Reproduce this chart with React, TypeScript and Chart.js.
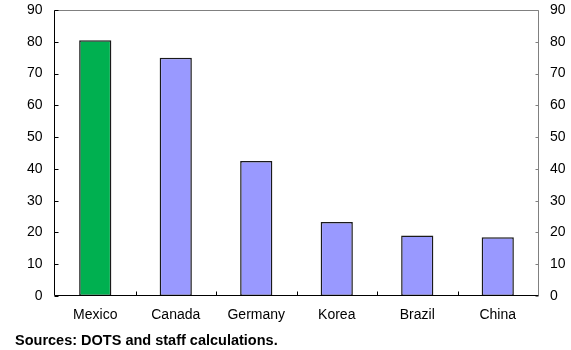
import { useEffect, useRef } from "react";
import { Chart, registerables } from "chart.js";

Chart.register(...registerables);

// Export shares by destination (percent)
const categories = ["Mexico", "Canada", "Germany", "Korea", "Brazil", "China"];
const shares = [80.5, 75, 42.5, 23.3, 19, 18.5];
const barColors = ["#00B050", "#9999FF", "#9999FF", "#9999FF", "#9999FF", "#9999FF"];
const yMin = 0;
const yMax = 90;
const yStep = 10;
const sourceNote = "Sources: DOTS and staff calculations.";

const FONT = "'Liberation Sans', Arial, Helvetica, sans-serif";

// Frame: black left/bottom axes, grey top/right border, inward tick marks, footnote.
const framePlugin = {
  id: "frame",
  afterDatasetsDraw(chart: any) {
    const { ctx, chartArea, scales } = chart;
    const { left, right, top, bottom } = chartArea;
    const xl = left - 0.5;
    const xr = right + 0.5;
    const yt = top + 0.5;
    const yb = bottom - 0.5;
    ctx.save();
    ctx.lineWidth = 1;

    ctx.strokeStyle = "#808080";
    ctx.beginPath();
    ctx.moveTo(xl, yt);
    ctx.lineTo(xr, yt);
    ctx.lineTo(xr, yb);
    scales.y2.ticks.forEach((t: any) => {
      const y = Math.round(scales.y2.getPixelForValue(t.value)) + 0.5;
      ctx.moveTo(xr - 3, y);
      ctx.lineTo(xr, y);
    });
    ctx.stroke();

    ctx.strokeStyle = "#000000";
    ctx.beginPath();
    ctx.moveTo(xl, yt);
    ctx.lineTo(xl, yb);
    ctx.lineTo(xr, yb);
    scales.y.ticks.forEach((t: any) => {
      const y = Math.round(scales.y.getPixelForValue(t.value)) + 0.5;
      ctx.moveTo(xl, y);
      ctx.lineTo(xl + 4, y);
    });
    for (let i = 1; i < categories.length; i++) {
      const x =
        Math.round((scales.x.getPixelForValue(i - 1) + scales.x.getPixelForValue(i)) / 2) + 0.5;
      ctx.moveTo(x, yb);
      ctx.lineTo(x, yb - 4);
    }
    ctx.stroke();

    ctx.fillStyle = "#000000";
    ctx.font = `bold 14.5px ${FONT}`;
    ctx.textAlign = "left";
    ctx.textBaseline = "alphabetic";
    ctx.fillText(sourceNote, 15, 345);
    ctx.restore();
  },
};

// Fixed axis sizes and vertical paddings so the plot area stays put.
const fixY = (width: number) => (scale: any) => {
  scale.width = width;
  scale.paddingTop = 10;
  scale.paddingBottom = 0;
};

export default function App() {
  const canvasRef = useRef<HTMLCanvasElement | null>(null);

  useEffect(() => {
    document.body.style.margin = "0";
    const canvas = canvasRef.current;
    if (!canvas) return;

    const tickFont = { family: FONT, size: 14 };
    const chart = new Chart(canvas, {
      type: "bar",
      data: {
        labels: categories,
        datasets: [
          {
            data: shares,
            backgroundColor: barColors,
            borderColor: "#1a1a1a",
            borderWidth: 1.5,
            borderSkipped: false,
            categoryPercentage: 1,
            barPercentage: 0.4,
          },
        ],
      },
      options: {
        responsive: false,
        animation: false,
        layout: { padding: 0 },
        plugins: {
          legend: { display: false },
          tooltip: { enabled: false },
          title: { display: false },
        },
        scales: {
          x: {
            grid: { display: false, drawTicks: false },
            border: { display: false },
            ticks: { color: "#000000", font: tickFont, padding: 11, maxRotation: 0 },
            afterFit: (scale: any) => {
              scale.height = 54;
            },
          },
          y: {
            position: "left",
            min: yMin,
            max: yMax,
            grid: { display: false, drawTicks: false },
            border: { display: false },
            ticks: {
              stepSize: yStep,
              color: "#000000",
              font: tickFont,
              padding: 12.5,
              crossAlign: "near",
            },
            afterFit: fixY(55),
          },
          y2: {
            position: "right",
            min: yMin,
            max: yMax,
            grid: { display: false, drawTicks: false },
            border: { display: false },
            ticks: {
              stepSize: yStep,
              color: "#000000",
              font: tickFont,
              padding: 12,
              crossAlign: "near",
            },
            afterFit: fixY(33),
          },
        },
      },
      plugins: [framePlugin],
    });

    return () => chart.destroy();
  }, []);

  return (
    <div style={{ width: 571, height: 350 }}>
      <canvas ref={canvasRef} width={571} height={350} style={{ display: "block" }} />
    </div>
  );
}
